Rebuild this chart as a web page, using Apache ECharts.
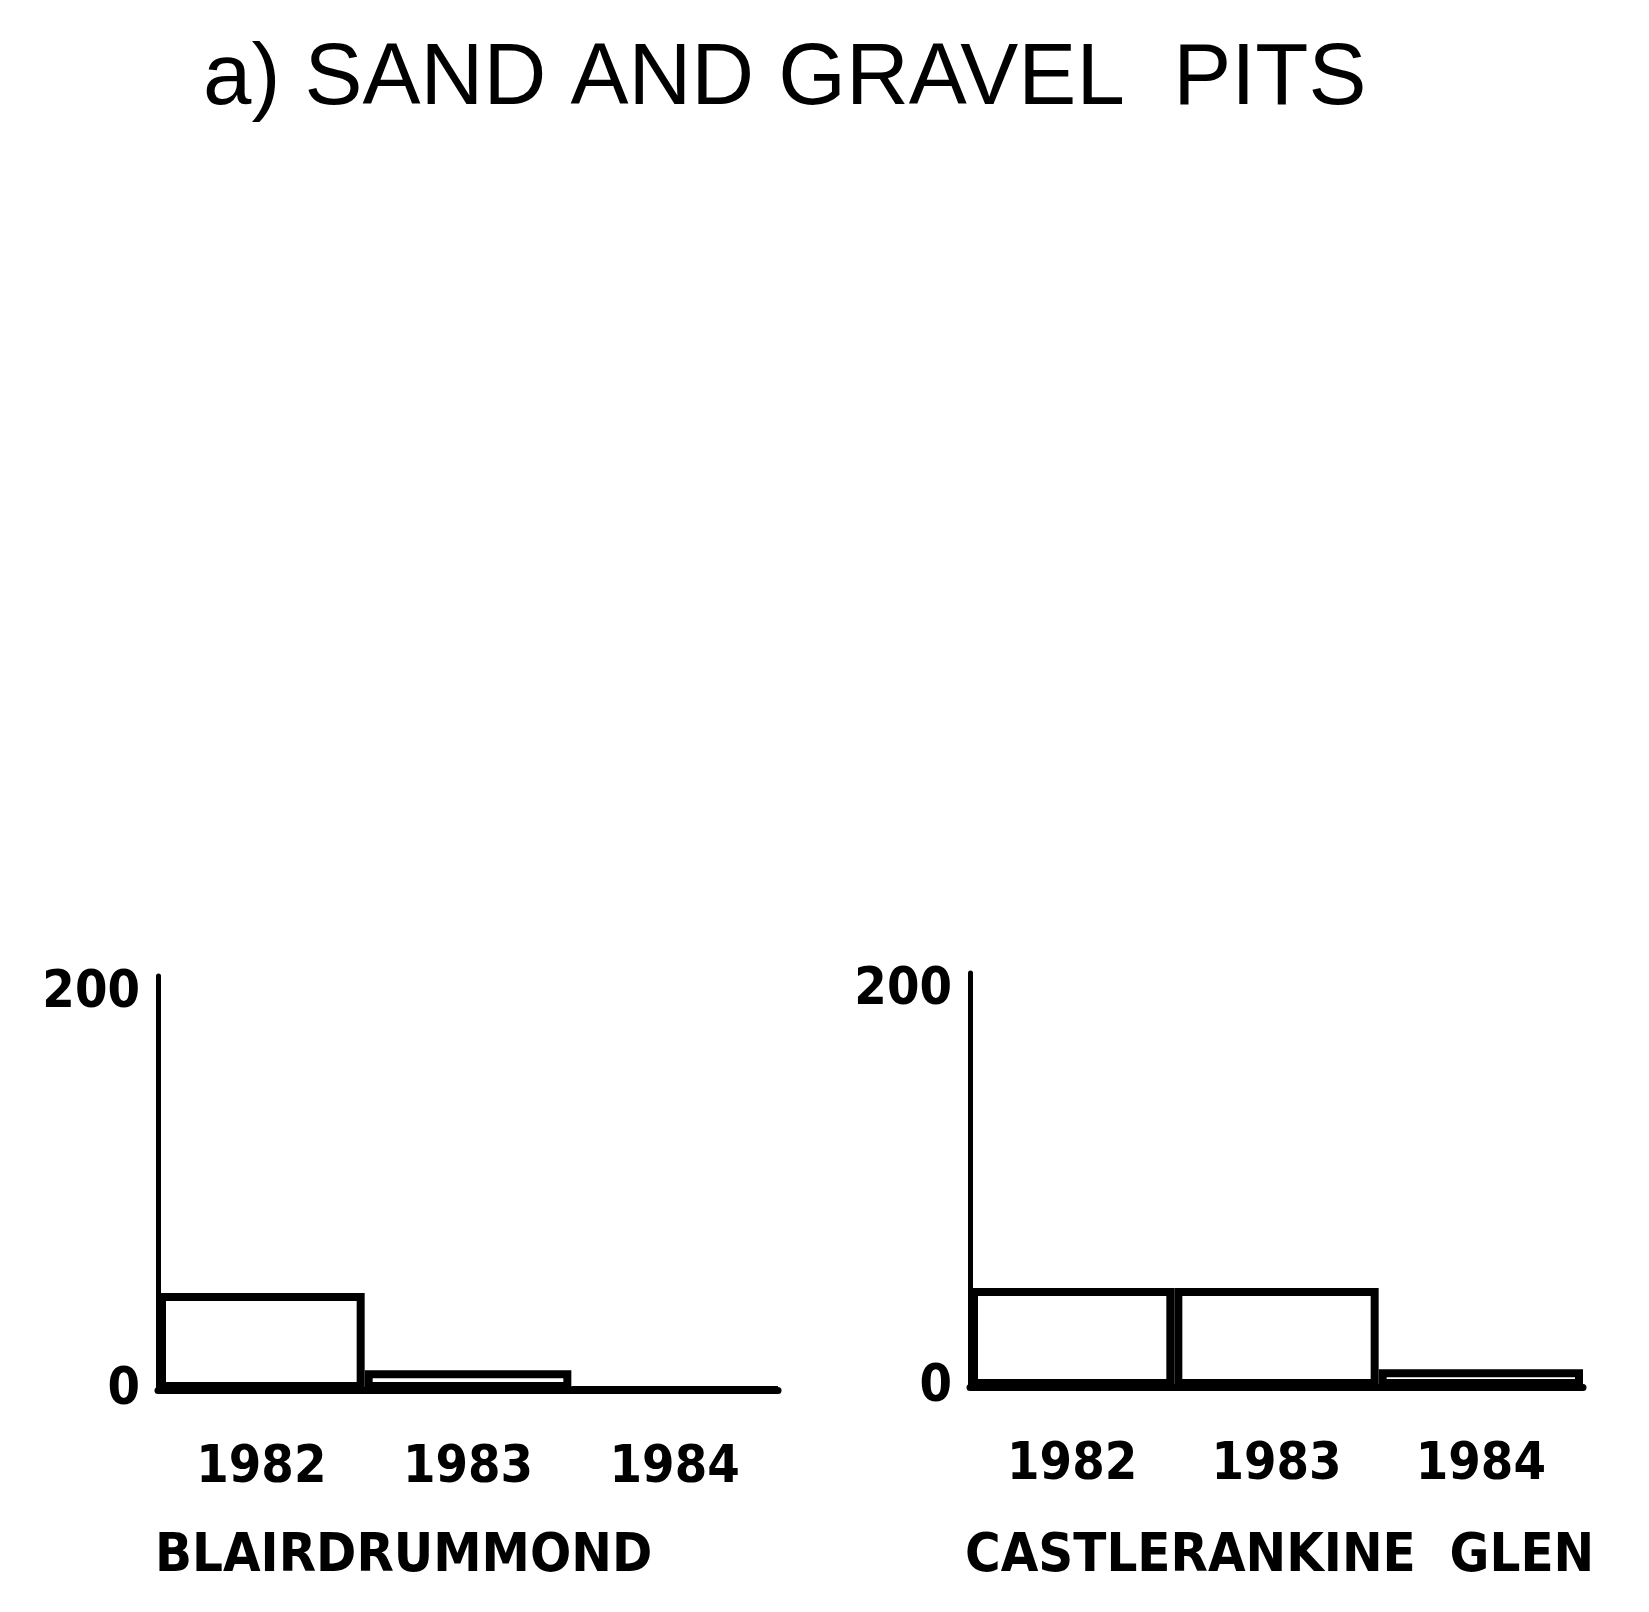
<!DOCTYPE html>
<html>
<head>
<meta charset="utf-8">
<script src="https://cdn.jsdelivr.net/npm/echarts@6/dist/echarts.min.js"></script>
<style>
  html, body { margin: 0; padding: 0; background: #fff; }
  #main { width: 1649px; height: 1612px; }
</style>
</head>
<body>
<div id="main"></div>
<script>
  // data
  var years = ["1982", "1983", "1984"];
  var blairValues = [49, 10, 0];
  var castleValues = [50, 50, 9];
  var siteNames = ["BLAIRDRUMMOND", "CASTLERANKINE  GLEN"];
  var yMin = 0;
  var yStep = 200;
  var yTop = 209; // axis line runs a bit past 200

  var narrow = "'DejaVu Sans Condensed', 'Liberation Sans Narrow', sans-serif";

  function xAx(idx) {
    return {
      type: "category",
      gridIndex: idx,
      data: years,
      axisLine: { show: true, lineStyle: { color: "#000", width: 7 } },
      axisTick: { show: false },
      axisLabel: {
        color: "#000",
        fontFamily: narrow,
        fontWeight: "bold",
        fontSize: 52,
        interval: 0,
        margin: 52
      },
      splitLine: { show: false }
    };
  }
  function yAx(idx) {
    return {
      type: "value",
      gridIndex: idx,
      min: yMin,
      max: yTop,
      interval: yStep,
      axisLine: { show: true, lineStyle: { color: "#000", width: 5 } },
      axisTick: { show: false },
      splitLine: { show: false },
      axisLabel: {
        color: "#000",
        fontFamily: narrow,
        fontWeight: "bold",
        fontSize: 52,
        margin: 18,
        showMaxLabel: false
      }
    };
  }
  function barSeries(idx, vals) {
    return {
      type: "bar",
      xAxisIndex: idx,
      yAxisIndex: idx,
      data: vals,
      barCategoryGap: "0%",
      itemStyle: { color: "#fff", borderColor: "#000", borderWidth: 8 },
      silent: true
    };
  }

  var myChart = echarts.init(document.getElementById("main"), null, { renderer: "canvas" });
  var option = {
    backgroundColor: "#fff",
    animation: false,
    title: [
      {
        text: "a) SAND AND GRAVEL  PITS",
        left: 198,
        top: 32,
        textStyle: { color: "#000", fontFamily: "'Liberation Sans', sans-serif", fontWeight: "normal", fontSize: 87 }
      },
      {
        text: siteNames[0],
        left: 150,
        top: 1525,
        textStyle: { color: "#000", fontFamily: narrow, fontWeight: "bold", fontSize: 54 }
      },
      {
        text: siteNames[1],
        left: 960,
        top: 1525,
        textStyle: { color: "#000", fontFamily: narrow, fontWeight: "bold", fontSize: 54 }
      }
    ],
    grid: [
      { left: 158, top: 976, width: 620, height: 414 },
      { left: 970, top: 973, width: 613, height: 414 }
    ],
    xAxis: [xAx(0), xAx(1)],
    yAxis: [yAx(0), yAx(1)],
    series: [barSeries(0, blairValues), barSeries(1, castleValues)]
  };
  myChart.setOption(option);
</script>
</body>
</html>
